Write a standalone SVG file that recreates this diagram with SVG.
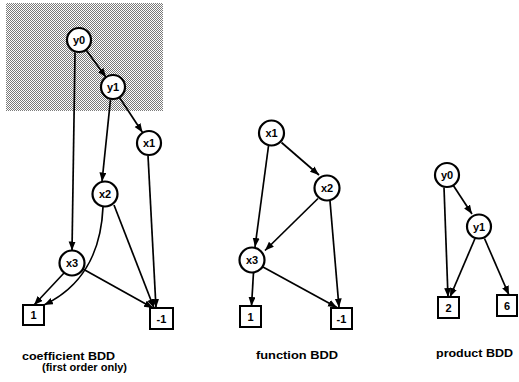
<svg xmlns="http://www.w3.org/2000/svg" width="519" height="382" viewBox="0 0 519 382">
<style>
.node circle{fill:#fff;stroke:#000;stroke-width:2.2}
.node rect{fill:#fff;stroke:#000;stroke-width:2}
.node text{font-family:"Liberation Sans",Arial,sans-serif;font-weight:bold;font-size:11px;text-anchor:middle;fill:#000}
.edges path,.edges line{fill:none;stroke:#000;stroke-width:1.7;marker-end:url(#arr)}
.cap{font-family:"Liberation Sans",Arial,sans-serif;font-weight:bold;font-size:11px;fill:#000}
</style>
<defs>
<marker id="arr" markerUnits="userSpaceOnUse" markerWidth="10" markerHeight="8" refX="9" refY="3.5" orient="auto">
<path d="M0,0 L9,3.5 L0,7 z" fill="#000"/>
</marker>
<pattern id="dots" width="2" height="2" patternUnits="userSpaceOnUse">
<rect x="0" y="0" width="2" height="2" fill="#fff"/>
<rect x="0" y="0" width="1" height="1" fill="#7a7a7a"/>
<rect x="1" y="1" width="1" height="1" fill="#7a7a7a"/>
</pattern>
</defs>
<rect id="shade" x="6" y="3" width="157" height="108" fill="url(#dots)"/>
<g class="edges">
<!-- coefficient -->
<line x1="86" y1="49.7" x2="106" y2="77.3"/>
<line x1="75" y1="52.5" x2="72" y2="250.5"/>
<line x1="119.5" y1="97.5" x2="142.5" y2="132.5"/>
<line x1="110.5" y1="99.5" x2="102" y2="181.5"/>
<line x1="148" y1="155.5" x2="156" y2="308"/>
<line x1="114" y1="205" x2="154" y2="308"/>
<path d="M103,207 C101,255 80,288 44,305"/>
<line x1="64" y1="273" x2="34" y2="305"/>
<line x1="83" y1="269" x2="153" y2="308"/>
<!-- function -->
<line x1="281.5" y1="142.5" x2="319" y2="175"/>
<line x1="268.5" y1="146" x2="255" y2="247"/>
<line x1="318" y1="198.5" x2="265" y2="250.5"/>
<line x1="330" y1="201" x2="339" y2="307.5"/>
<line x1="253.5" y1="272.5" x2="251.5" y2="306"/>
<line x1="263" y1="267" x2="337" y2="307.5"/>
<!-- product -->
<line x1="453" y1="185" x2="472" y2="214"/>
<line x1="444" y1="187.5" x2="448" y2="297"/>
<line x1="475" y1="238.5" x2="450" y2="297"/>
<line x1="484.5" y1="238.5" x2="509" y2="295"/>
</g>
<!-- coefficient BDD nodes -->
<g id="c_y0" class="node"><circle cx="79" cy="40" r="12"/><text x="79" y="44">y0</text></g>
<g id="c_y1" class="node"><circle cx="113" cy="87" r="12"/><text x="113" y="91">y1</text></g>
<g id="c_x1" class="node"><circle cx="149" cy="143" r="12"/><text x="149" y="147">x1</text></g>
<g id="c_x2" class="node"><circle cx="105" cy="194" r="12.5"/><text x="105" y="198">x2</text></g>
<g id="c_x3" class="node"><circle cx="72" cy="263" r="12.5"/><text x="72" y="267">x3</text></g>
<g id="c_one" class="node"><rect x="23" y="305" width="21" height="20"/><text x="33.5" y="319">1</text></g>
<g id="c_minus" class="node"><rect x="150" y="308" width="23" height="21"/><text x="161.5" y="322.5">-1</text></g>
<!-- function BDD nodes -->
<g id="f_x1" class="node"><circle cx="271.5" cy="133" r="12.5"/><text x="271.5" y="137">x1</text></g>
<g id="f_x2" class="node"><circle cx="327" cy="188" r="12.5"/><text x="327" y="192">x2</text></g>
<g id="f_x3" class="node"><circle cx="252" cy="260" r="12.5"/><text x="252" y="264">x3</text></g>
<g id="f_one" class="node"><rect x="240" y="306" width="21" height="21"/><text x="250.5" y="320.5">1</text></g>
<g id="f_minus" class="node"><rect x="331" y="308" width="21" height="21"/><text x="341.5" y="322.5">-1</text></g>
<!-- product BDD nodes -->
<g id="p_y0" class="node"><circle cx="447" cy="175" r="12"/><text x="447" y="179">y0</text></g>
<g id="p_y1" class="node"><circle cx="479" cy="226.5" r="12"/><text x="479" y="230.5">y1</text></g>
<g id="p_two" class="node"><rect x="438" y="297" width="21" height="21"/><text x="448.5" y="311.5">2</text></g>
<g id="p_six" class="node"><rect x="497" y="295" width="20" height="21"/><text x="507" y="309.5">6</text></g>
<!-- captions -->
<text class="cap" x="22" y="360" textLength="93" lengthAdjust="spacingAndGlyphs">coefficient BDD</text>
<text class="cap" x="42" y="371" textLength="85" lengthAdjust="spacingAndGlyphs">(first order only)</text>
<text class="cap" x="256" y="359" textLength="82" lengthAdjust="spacingAndGlyphs">function BDD</text>
<text class="cap" x="436" y="357" textLength="77" lengthAdjust="spacingAndGlyphs">product BDD</text>
</svg>
